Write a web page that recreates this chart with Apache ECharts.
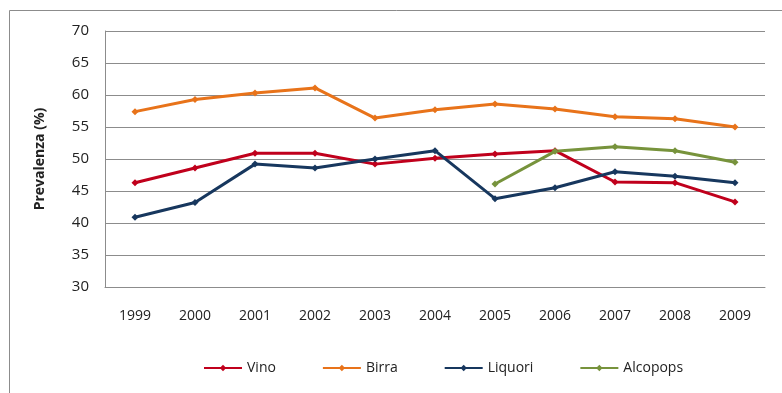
<!DOCTYPE html>
<html>
<head>
<meta charset="utf-8">
<title></title>
<style type="text/css">
	* {margin: 0; padding: 0;}
	body {background: #fff;}
</style>
</head>
<body>
<div id="chart" style="width:782px;height:393px"></div>
<script src="https://cdn.jsdelivr.net/npm/echarts@6/dist/echarts.min.js"></script>
<script type="text/javascript">
var anni = ['1999','2000','2001','2002','2003','2004','2005','2006','2007','2008','2009'];
var vino = [46.3, 48.6, 50.9, 50.9, 49.2, 50.1, 50.8, 51.3, 46.4, 46.3, 43.3];
var birra = [57.4, 59.3, 60.3, 61.1, 56.4, 57.7, 58.6, 57.8, 56.6, 56.3, 55.0];
var liquori = [40.9, 43.2, 49.2, 48.6, 50.0, 51.3, 43.8, 45.5, 48.0, 47.3, 46.3];
var alcopops = [null, null, null, null, null, null, 46.1, 51.2, 51.9, 51.3, 49.5];

var font = 'Open Sans';

function serie(nome, dati, colore) {
	return {
		name: nome,
		type: 'line',
		data: dati,
		symbol: 'diamond',
		symbolSize: 7,
		connectNulls: false,
		lineStyle: {width: 3, color: colore},
		itemStyle: {color: colore}
	};
}

var chart = echarts.init(document.getElementById('chart'));
var option = {
	animation: false,
	backgroundColor: '#fff',
	graphic: [{
		type: 'rect',
		shape: {x: 9.5, y: 10.5, width: 800, height: 400},
		style: {fill: 'none', stroke: '#8c8c8c', lineWidth: 1}
	}],
	grid: {left: 105, right: 17, top: 31, bottom: 106},
	legend: {
		data: ['Vino', 'Birra', 'Liquori', 'Alcopops'],
		top: 361,
		left: 203,
		padding: 0,
		itemGap: 46,
		itemWidth: 38,
		itemHeight: 8,
		textStyle: {fontFamily: font, fontSize: 14, color: '#222'}
	},
	xAxis: {
		type: 'category',
		data: anni,
		boundaryGap: true,
		axisLine: {lineStyle: {color: '#8c8c8c', width: 1}},
		axisTick: {show: false},
		axisLabel: {fontFamily: font, fontSize: 14, color: '#222', margin: 22}
	},
	yAxis: {
		type: 'value',
		min: 30,
		max: 70,
		interval: 5,
		name: 'Prevalenza (%)',
		nameLocation: 'middle',
		nameGap: 58,
		nameTextStyle: {fontFamily: font, fontSize: 14, fontWeight: 'bold', color: '#222'},
		axisLine: {show: true, lineStyle: {color: '#8c8c8c', width: 1}},
		axisTick: {show: false},
		axisLabel: {fontFamily: font, fontSize: 15, color: '#222', margin: 16},
		splitLine: {lineStyle: {color: '#8c8c8c', width: 1}}
	},
	series: [
		serie('Vino', vino, '#c0001c'),
		serie('Birra', birra, '#e8731a'),
		serie('Liquori', liquori, '#17375e'),
		serie('Alcopops', alcopops, '#77933c')
	]
};
chart.setOption(option);
</script>
</body>
</html>
